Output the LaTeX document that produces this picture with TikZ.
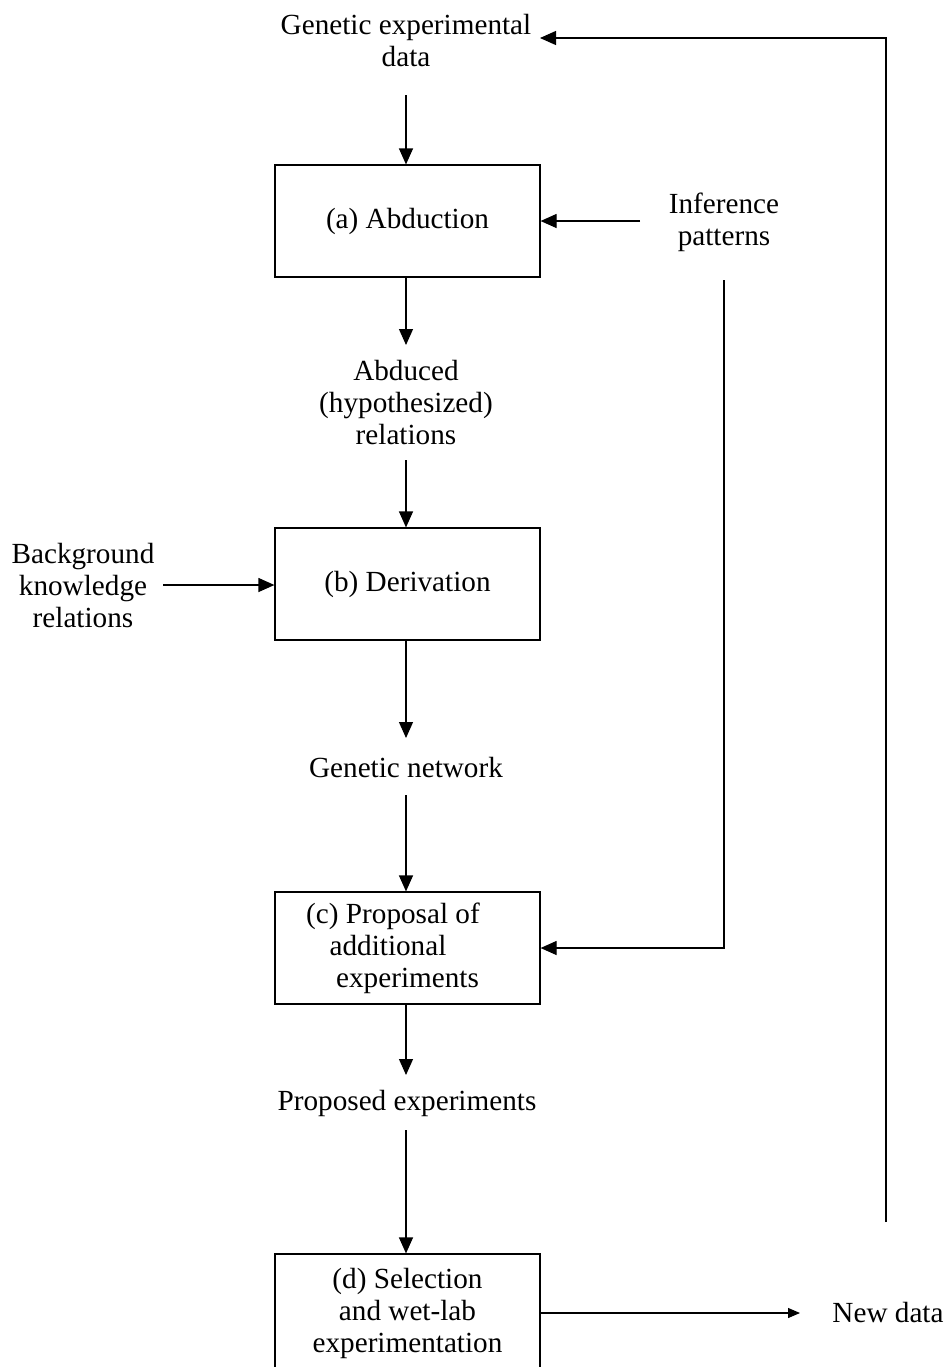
\documentclass[tikz,border=0pt]{standalone}
\usepackage{fontspec}
\setmainfont{Liberation Serif}
\usetikzlibrary{arrows.meta}
\begin{document}
\begin{tikzpicture}[x=0.5pt,y=-0.5pt,
  font=\fontsize{14.6}{16}\selectfont,
  box/.style={draw,line width=0.6pt,minimum width=132.5pt,minimum height=56pt,inner sep=0pt,align=center},
  lbl/.style={align=center,inner sep=0pt},
  arr/.style={-{Triangle[length=8pt,width=7pt]},line width=0.6pt},
  arrs/.style={-{Triangle[length=6pt,width=5pt]},line width=0.6pt}]
\clip (0,0) rectangle (949,1367);
\fill[white] (0,0) rectangle (949,1367);
% text nodes
\node[lbl] (gd) at (406,41) {Genetic experimental\\data};
\node[lbl] (ip) at (724,222) {Inference\\patterns};
\node[lbl] (ab) at (406,403) {Abduced\\(hypothesized)\\relations};
\node[lbl] (bk) at (83,585) {Background\\knowledge\\relations};
\node[lbl] (gn) at (406,767) {Genetic network};
\node[lbl] (pe) at (407,1103) {Proposed experiments};
\node[lbl] (nd) at (888,1312) {New data};
% boxes
\node[box] (a) at (407.5,221) {(a) Abduction};
\node[box] (b) at (407.5,584) {(b) Derivation};
\node[box] (c) at (407.5,948) {\hspace*{-14.5pt}(c) Proposal of\\\hspace*{-19.5pt}additional\\experiments};
\node[box,minimum height=59pt] (d) at (407.5,1313) {(d) Selection\\and wet-lab\\experimentation};
% connector endpoints
\coordinate (gdout) at (406,95);
\coordinate (gdin) at (540,38);
\coordinate (ipout) at (640,221);
\coordinate (ipdown) at (724,280);
\coordinate (abin) at (406,345);
\coordinate (about) at (406,460);
\coordinate (bkout) at (163,585);
\coordinate (gnin) at (406,738);
\coordinate (gnout) at (406,795);
\coordinate (pein) at (406,1075);
\coordinate (peout) at (406,1130);
\coordinate (ndin) at (800,1313);
\coordinate (fb) at (886,1222);
% connectors
\draw[arr] (gdout) -- (a.north -| gdout);
\draw[arr] (ipout) -- (a.east |- ipout);
\draw[arr] (a.south -| abin) -- (abin);
\draw[arr] (about) -- (b.north -| about);
\draw[arr] (bkout) -- (b.west |- bkout);
\draw[arr] (b.south -| gnin) -- (gnin);
\draw[arr] (gnout) -- (c.north -| gnout);
\draw[arr] (ipdown) |- (c.east);
\draw[arr] (c.south -| pein) -- (pein);
\draw[arr] (peout) -- (d.north -| peout);
\draw[arrs] (d.east |- ndin) -- (ndin);
\draw[arr] (fb) |- (gdin);
\end{tikzpicture}
\end{document}
